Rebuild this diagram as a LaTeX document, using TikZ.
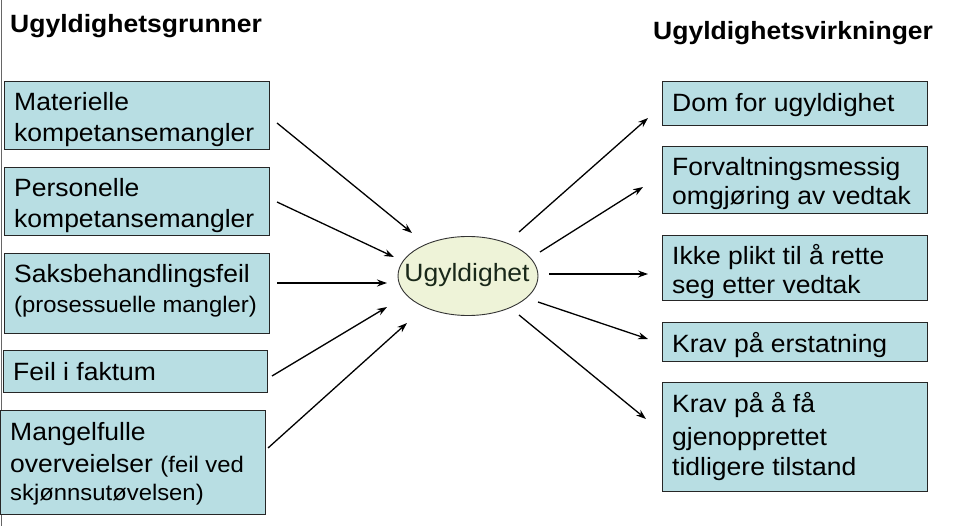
\documentclass[tikz,border=0pt]{standalone}
\usepackage{fontspec}
\setmainfont{Liberation Sans}[FakeStretch=1.06]
\usetikzlibrary{arrows.meta}
\definecolor{boxblue}{RGB}{184,222,227}
\definecolor{ellfill}{RGB}{238,243,216}
\definecolor{elltext}{RGB}{25,40,25}
\newcommand{\mainsz}{\fontsize{25}{29}\selectfont}
\newcommand{\smallsz}{\fontsize{22.5}{26}\selectfont}
\begin{document}
\begin{tikzpicture}[x=1pt,y=-1pt,
  box/.style={draw=black!85, fill=boxblue, line width=0.9pt, anchor=north west, inner sep=0pt},
  txt/.style={anchor=base west, inner sep=0pt, font=\mainsz},
  stxt/.style={anchor=base west, inner sep=0pt, font=\smallsz},
  ttl/.style={anchor=base west, inner sep=0pt, font=\mainsz\bfseries},
  arr/.style={line width=1.3pt, -{Stealth[length=10pt,width=7pt]}}]
\useasboundingbox (0,0) rectangle (957,526);
\fill[white] (0,0) rectangle (957,526);
\draw[black!60, line width=1pt] (1,0) -- (1,526);

% titles
\node[ttl] (tl) at (10,33) {Ugyldighetsgrunner};
\node[ttl] (tr) at (653,40) {Ugyldighetsvirkninger};

% left boxes
\node[box, minimum width=265pt, minimum height=68pt] (g1) at (4,81) {};
\node[txt] (g1a) at (14,111) {Materielle};
\node[txt] (g1b) at (14,142) {kompetansemangler};

\node[box, minimum width=265pt, minimum height=68pt] (g2) at (4,167) {};
\node[txt] (g2a) at (14,197) {Personelle};
\node[txt] (g2b) at (14,228) {kompetansemangler};

\node[box, minimum width=265pt, minimum height=80pt] (g3) at (4,253) {};
\node[txt] (g3a) at (14,283) {Saksbehandlingsfeil};
\node[stxt] (g3b) at (14,312) {(prosessuelle mangler)};

\node[box, minimum width=264pt, minimum height=42pt] (g4) at (3,350) {};
\node[txt] (g4a) at (13,380) {Feil i faktum};

\node[box, minimum width=265pt, minimum height=104pt] (g5) at (0,410) {};
\node[txt] (g5a) at (10,440) {Mangelfulle};
\node[txt] (g5b) at (10,472) {overveielser {\smallsz (feil ved}};
\node[stxt] (g5c) at (10,500) {skjønnsutøvelsen)};

% right boxes
\node[box, minimum width=265pt, minimum height=44pt] (v1) at (662,81) {};
\node[txt] (v1a) at (672,112) {Dom for ugyldighet};

\node[box, minimum width=265pt, minimum height=67pt] (v2) at (662,146) {};
\node[txt] (v2a) at (672,176) {Forvaltningsmessig};
\node[txt] (v2b) at (672,205) {omgjøring av vedtak};

\node[box, minimum width=265pt, minimum height=65pt] (v3) at (662,235) {};
\node[txt] (v3a) at (672,265) {Ikke plikt til å rette};
\node[txt] (v3b) at (672,294) {seg etter vedtak};

\node[box, minimum width=265pt, minimum height=39pt] (v4) at (662,322) {};
\node[txt] (v4a) at (672,352) {Krav på erstatning};

\node[box, minimum width=265pt, minimum height=109pt] (v5) at (662,382) {};
\node[txt] (v5a) at (672,412) {Krav på å få};
\node[txt] (v5b) at (672,445) {gjenopprettet};
\node[txt] (v5c) at (672,475) {tidligere tilstand};

% centre ellipse
\draw[fill=ellfill, draw=black!80, line width=0.9pt] (468,276) ellipse [x radius=70pt, y radius=39.5pt];
\node[font=\mainsz, text=elltext, inner sep=0pt] (c) at (467,275) {Ugyldighet};

% arrow end points
\coordinate (a1s) at (277,123); \coordinate (a1e) at (412,233);
\coordinate (a2s) at (277,202); \coordinate (a2e) at (394,257);
\coordinate (a3s) at (277,283); \coordinate (a3e) at (387,283);
\coordinate (a4s) at (272,376); \coordinate (a4e) at (387,307);
\coordinate (a5s) at (268,448); \coordinate (a5e) at (407,323);
\coordinate (b1s) at (519,232); \coordinate (b1e) at (648,118);
\coordinate (b2s) at (540,252); \coordinate (b2e) at (643,187);
\coordinate (b3s) at (549,274); \coordinate (b3e) at (648,274);
\coordinate (b4s) at (538,302); \coordinate (b4e) at (648,339);
\coordinate (b5s) at (519,315); \coordinate (b5e) at (646,419);

\foreach \p in {a1,a2,a3,a4,a5,b1,b2,b3,b4,b5}
  \draw[arr] (\p s) -- (\p e);
\end{tikzpicture}
\end{document}
